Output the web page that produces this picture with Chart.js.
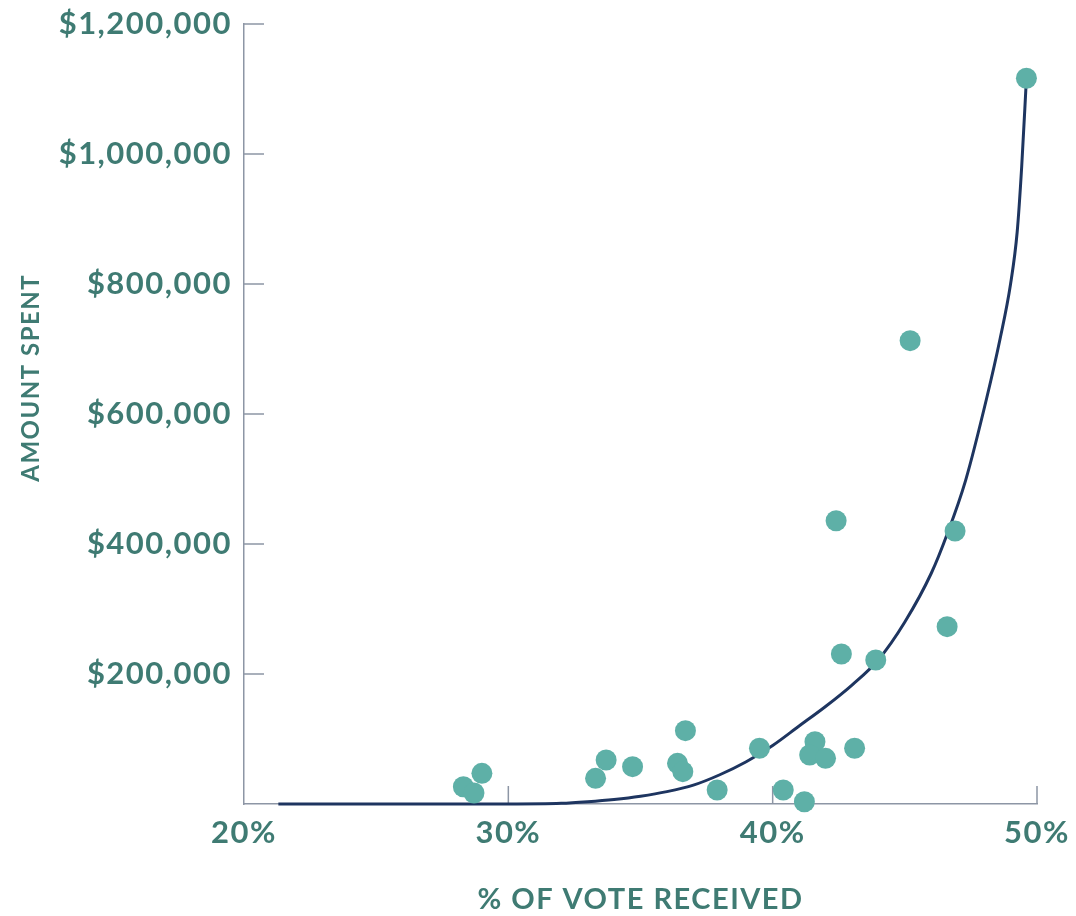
<!DOCTYPE html>
<html>
<head>
<meta charset="utf-8">
<script src="https://cdn.jsdelivr.net/npm/chart.js@4/dist/chart.umd.min.js"></script>
<style>
  html, body { margin: 0; padding: 0; background: #fff; }
  #wrap { width: 1076px; height: 916px; position: relative; }
</style>
</head>
<body>
<div id="wrap"><canvas id="chart"></canvas></div>
<script>
// candidates: % of vote received and amount spent
const voteShare = [28.3, 28.7, 29.0, 33.3, 33.7, 34.7, 36.4, 36.6, 36.7, 37.9, 39.5, 40.4,
    41.2, 41.6, 41.4, 42.0, 43.1, 42.4, 42.6, 43.9, 46.6, 46.9, 45.2, 49.6];
const amountSpent = [26600, 16900, 47200, 39500, 67700, 57400, 62600, 49700, 112800, 21500, 85700, 21500,
    3500, 95800, 75400, 70300, 85700, 435800, 230800, 221500, 272800, 420000, 712800, 1116500];

// trend curve
const trendX = [21.3, 30, 32, 33, 34, 35, 36, 37, 38, 39, 40, 41, 42, 43, 44, 45, 46, 46.6, 47.3, 48.1, 48.6, 49.0, 49.25, 49.42, 49.6];
const trendY = [0, 0, 1000, 3500, 7000, 12000, 19000, 29000, 45000, 65000, 90000, 120000, 150000, 183000, 222000, 280000, 355000, 415000, 498000, 625000, 715000, 800000, 880000, 980000, 1116500];

const xTicks = [20, 30, 40, 50];
const yTicks = [0, 200000, 400000, 600000, 800000, 1000000, 1200000];

const textColor = '#3f7b73';
const axisColor = '#8d96a5';

let points = voteShare.map((v, i) => ({x: v, y: amountSpent[i]}));
let trend = trendX.map((v, i) => ({x: v, y: trendY[i]}));

// the labels in the original are set wide
const wideText = {
    id: 'wideText',
    beforeUpdate(chart) { chart.ctx.letterSpacing = '1.5px'; },
    beforeDraw(chart) { chart.ctx.letterSpacing = '1.5px'; }
};

// short tick marks drawn inward from the axes
const innerTicks = {
    id: 'innerTicks',
    beforeDatasetsDraw(chart) {
        const ctx = chart.ctx;
        const xs = chart.scales.x, ys = chart.scales.y;
        ctx.save();
        ctx.strokeStyle = axisColor;
        ctx.lineWidth = 1.5;
        xTicks.forEach(t => {
            if (t === xs.min) return;
            let px = xs.getPixelForValue(t);
            ctx.beginPath();
            ctx.moveTo(px, ys.bottom);
            ctx.lineTo(px, ys.bottom - 18);
            ctx.stroke();
        });
        yTicks.forEach(t => {
            if (t === 0) return;
            let py = ys.getPixelForValue(t);
            ctx.beginPath();
            ctx.moveTo(xs.left, py);
            ctx.lineTo(xs.left + 20, py);
            ctx.stroke();
        });
        ctx.restore();
    }
};

const ctx = document.getElementById('chart').getContext('2d');
new Chart(ctx, {
    type: 'scatter',
    data: {
        datasets: [{
            label: 'Candidates',
            data: points,
            backgroundColor: '#5eb0a7',
            borderWidth: 0,
            pointRadius: 10.5,
            clip: false,
            order: 1
        }, {
            label: 'Trend',
            data: trend,
            showLine: true,
            borderColor: '#1e3560',
            borderWidth: 3,
            pointRadius: 0,
            cubicInterpolationMode: 'monotone',
            clip: false,
            order: 2
        }]
    },
    options: {
        responsive: true,
        maintainAspectRatio: false,
        animation: false,
        layout: { padding: { left: 0, top: 24, right: 39, bottom: 0 } },
        plugins: { legend: { display: false }, tooltip: { enabled: false } },
        scales: {
            x: {
                type: 'linear',
                min: 20, max: 50,
                afterBuildTicks: s => { s.ticks = xTicks.map(v => ({value: v})); },
                afterFit: s => { s.height = 112; s.paddingLeft = 0; s.paddingRight = 0; },
                grid: { display: false, drawTicks: false },
                border: { display: true, color: axisColor, width: 1.5 },
                ticks: {
                    padding: 10,
                    color: textColor,
                    font: { family: 'Lato', size: 31, weight: 'bold' },
                    callback: v => v + '%'
                },
                title: {
                    display: true,
                    text: '% OF VOTE RECEIVED',
                    color: textColor,
                    font: { family: 'Lato', size: 29, weight: 'bold', lineHeight: 1 },
                    padding: { top: 0, bottom: 2 }
                }
            },
            y: {
                type: 'linear',
                min: 0, max: 1200000,
                afterBuildTicks: s => { s.ticks = yTicks.map(v => ({value: v})); },
                afterFit: s => { s.width = 244; s.paddingTop = 0; s.paddingBottom = 0; },
                grid: { display: false, drawTicks: false },
                border: { display: true, color: axisColor, width: 1.5 },
                ticks: {
                    padding: 12,
                    color: textColor,
                    font: { family: 'Lato', size: 31, weight: 'bold' },
                    callback: v => v === 0 ? '' : '$' + v.toLocaleString('en-US')
                },
                title: {
                    display: true,
                    text: '\u00a0\u00a0\u00a0\u00a0\u00a0\u00a0\u00a0\u00a0\u00a0\u00a0AMOUNT SPENT',
                    color: textColor,
                    font: { family: 'Lato', size: 24, weight: 'bold', lineHeight: 1 },
                    padding: { top: 19, bottom: 0 }
                }
            }
        }
    },
    plugins: [wideText, innerTicks]
});
</script>
</body>
</html>
